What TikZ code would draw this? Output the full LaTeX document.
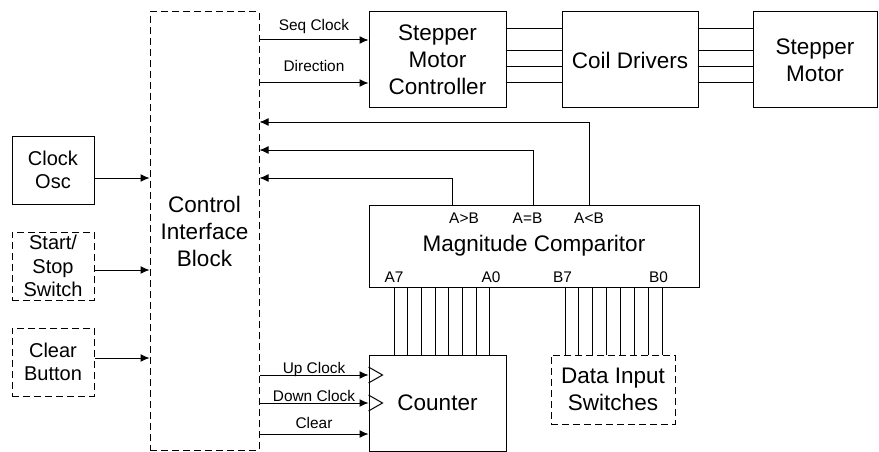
\documentclass[tikz,border=0pt]{standalone}
\usepackage{fontspec}
\setmainfont{Liberation Sans}
\usetikzlibrary{arrows.meta}

\begin{document}
\begin{tikzpicture}[x=1pt,y=-1pt,>={Latex[length=9pt,width=8pt]},line width=1pt]
    \tikzset{
        block/.style={
            draw,inner sep=0pt,align=center,
            font=\fontsize{22.5}{27}\selectfont
        },
        dblock/.style={block,dash pattern=on 7pt off 4pt},
        smallblock/.style={block,minimum width=82pt,minimum height=68pt,
            font=\fontsize{20}{23.5}\selectfont},
        sig/.style={->},
        lbl/.style={font=\fontsize{15.4}{18}\selectfont,inner sep=0pt}
    }
    \useasboundingbox (0,0) rectangle (879,452);

    \node[dblock,minimum width=109pt,minimum height=438pt] (ctrl) at (204.5,231)
        {Control\\Interface\\Block};
    \node[smallblock] (clk-osc) at (53,170) {Clock\\Osc};
    \node[smallblock,dash pattern=on 7pt off 4pt] (start-sw) at (53,266)
        {Start/\\Stop\\Switch};
    \node[smallblock,dash pattern=on 7pt off 4pt] (clr-btn) at (53,362)
        {Clear\\Button};

    \node[block,minimum width=137pt,minimum height=96pt] (smc) at (437.5,60)
        {Stepper\\Motor\\Controller};
    \node[block,minimum width=136pt,minimum height=96pt] (coil) at (630,60)
        {Coil Drivers};
    \node[block,minimum width=124pt,minimum height=96pt] (motor) at (815,60)
        {Stepper\\Motor};

    \node[block,minimum width=330pt,minimum height=82pt] (mag) at (534,246)
        {Magnitude Comparitor};
    \node[block,minimum width=137pt,minimum height=96pt] (cnt) at (437.5,403)
        {Counter};
    \node[dblock,minimum width=124pt,minimum height=69pt] (dis) at (613,389.5)
        {Data Input\\Switches};

    % inputs of the control block
    \draw[sig] ([yshift=-8pt]clk-osc.east) -- ([yshift=-8pt]clk-osc.east -| ctrl.west);
    \draw[sig] ([yshift=-4pt]start-sw.east) -- ([yshift=-4pt]start-sw.east -| ctrl.west);
    \draw[sig] ([yshift=4pt]clr-btn.east) -- ([yshift=4pt]clr-btn.east -| ctrl.west);

    % stepper chain
    \draw[sig] ([yshift=20pt]smc.west -| ctrl.east) -- ([yshift=20pt]smc.west)
        node[lbl,midway,anchor=base,yshift=9pt] {Seq Clock};
    \draw[sig] ([yshift=-23pt]smc.west -| ctrl.east) -- ([yshift=-23pt]smc.west)
        node[lbl,midway,anchor=base,yshift=11pt] {Direction};
    \foreach \dy in {31,9,-7,-23}{
        \draw ([yshift=\dy pt]smc.east) -- ([yshift=\dy pt]coil.west);
        \draw ([yshift=\dy pt]coil.east) -- ([yshift=\dy pt]motor.west);
    }

    % comparator outputs
    \draw[sig] ([xshift=-82pt]mag.north) |- ([yshift=53pt]ctrl.east);
    \draw[sig] ([xshift=-1pt]mag.north) |- ([yshift=81pt]ctrl.east);
    \draw[sig] ([xshift=55pt]mag.north) |- ([yshift=109pt]ctrl.east);
    \node[lbl] at (464,218) {A>B};
    \node[lbl] at (527.5,218) {A=B};
    \node[lbl] at (589,218) {A<B};
    \node[lbl] at (394,277) {A7};
    \node[lbl] at (491,277) {A0};
    \node[lbl] at (562.5,277) {B7};
    \node[lbl] at (658.5,277) {B0};

    % buses
    \foreach \i in {0,...,7}{
        \pgfmathsetmacro\xa{394+13.7*\i}
        \pgfmathsetmacro\xb{565+13.86*\i}
        \draw (mag.south -| \xa,0) -- (cnt.north -| \xa,0);
        \draw (mag.south -| \xb,0) -- (dis.north -| \xb,0);
    }

    % counter inputs
    \draw[sig] ([yshift=28pt]cnt.west -| ctrl.east) -- ([yshift=28pt]cnt.west)
        node[lbl,midway,anchor=base,yshift=2pt] {Up Clock};
    \draw[sig] (cnt.west -| ctrl.east) -- (cnt.west)
        node[lbl,midway,anchor=base,yshift=2pt] {Down Clock};
    \draw[sig] ([yshift=-31pt]cnt.west -| ctrl.east) -- ([yshift=-31pt]cnt.west)
        node[lbl,midway,anchor=base,yshift=6pt] {Clear};
    \draw ([yshift=36pt]cnt.west) -- ++(14,8) -- ++(-14,8);
    \draw ([yshift=8pt]cnt.west) -- ++(14,8) -- ++(-14,8);
\end{tikzpicture}
\end{document}
